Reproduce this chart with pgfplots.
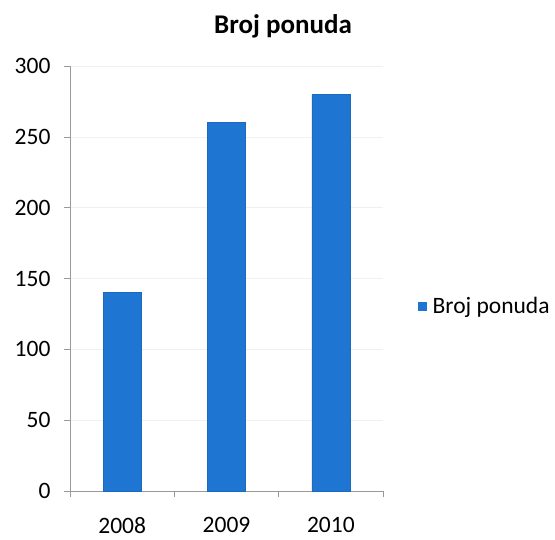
\documentclass[border=0pt]{standalone}
\usepackage{fontspec}
\setmainfont{Carlito}
\usepackage{pgfplots}
\pgfplotsset{compat=1.18}
\definecolor{barblue}{RGB}{30,118,210}
\begin{document}
\begin{tikzpicture}[x=1pt,y=1pt]
\useasboundingbox (0,0) rectangle (555,539);
\node[font=\fontsize{27}{30}\selectfont\bfseries] at (283,513) {Broj ponuda};
\begin{axis}[
  at={(70pt,48pt)}, anchor=origin,
  scale only axis, width=313pt, height=425pt,
  xmin=0.5, xmax=3.5, ymin=0, ymax=300,
  axis lines=left,
  axis line style={draw=gray!80, -},
  ytick={0,50,...,300},
  xtick={0.5,1.5,2.5,3.5},
  xticklabels={},
  extra x ticks={1,2,3},
  extra x tick labels={2008,2009,2010},
  extra x tick style={major tick length=0pt, grid=none},
  tick align=outside,
  major tick length=6pt,
  every tick/.style={draw=gray!80, line width=0.6pt},
  ymajorgrids, grid style={draw=gray!12},
  /pgf/number format/assume math mode=true,
  tick label style={font=\fontsize{23.5}{26}\selectfont},
  yticklabel style={xshift=-10pt},
  xticklabel style={yshift=-23pt},
  clip=false,
  legend style={at={(1.112,0.435)}, anchor=west, draw=none, fill=none,
    font=\fontsize{23.5}{26}\selectfont, inner sep=0pt, nodes={inner xsep=6pt}},
  legend image code/.code={\fill[barblue] (0pt,-4pt) rectangle (8pt,4pt);},
]
\addplot[ybar, bar width=38pt, fill=barblue, draw=barblue!90!black] coordinates {(1,140) (2,260) (3,280)};
\addlegendentry{Broj ponuda}
\end{axis}
\end{tikzpicture}
\end{document}
